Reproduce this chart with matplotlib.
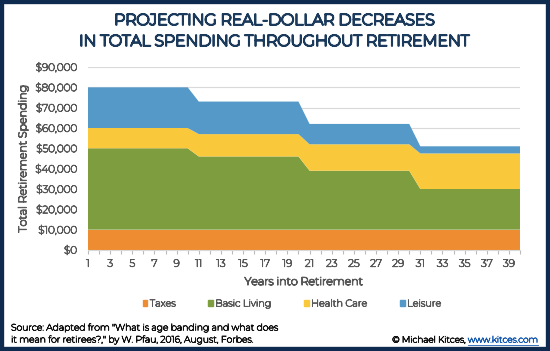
import matplotlib
matplotlib.use("Agg")
import matplotlib.pyplot as plt
import matplotlib.patheffects as pe
from matplotlib.patches import Rectangle

years = list(range(1, 41))
taxes = [10000] * 40
basic_living = [40000] * 10 + [36000] * 10 + [29000] * 10 + [20000] * 10
health_care = [10000] * 10 + [11000] * 10 + [13000] * 10 + [17500] * 10
leisure = [20000] * 10 + [16000] * 10 + [10000] * 10 + [3500] * 10
series_names = ["Taxes", "Basic Living", "Health Care", "Leisure"]
colors = ["#ED8C30", "#7D9D3F", "#F9C93B", "#5499C7"]
yticks = list(range(0, 90001, 10000))

plt.rcParams['font.family'] = ['Montserrat', 'Lato', 'DejaVu Sans']


def bold(t, w=0.7):
    t.set_path_effects([pe.withStroke(linewidth=w, foreground=t.get_color())])
    return t


fig = plt.figure(figsize=(5.5, 3.51), dpi=100)
W, H = 550, 351

fig.patches.append(Rectangle((0, 0), 1, 1, transform=fig.transFigure,
                             facecolor="none", edgecolor="#0E2B4F",
                             linewidth=6, zorder=10))

ax = fig.add_axes([88 / W, 1 - 250 / H, (520 - 88) / W, (250 - 67) / H])
ax.stackplot(years, taxes, basic_living, health_care, leisure,
             colors=colors, linewidth=0)
ax.set_xlim(1, 40)
ax.set_ylim(0, 90000)
ax.set_yticks(yticks)
ax.set_yticklabels([f"${v:,}" for v in yticks], fontsize=7.5, color="#595959")
ax.set_xticks(years)
ax.set_xticklabels([str(y) if y % 2 == 1 else "" for y in years],
                   fontsize=7.5, color="#595959")
ax.tick_params(axis="y", length=0, pad=8)
ax.tick_params(axis="x", length=3, color="#BBBBBB", pad=4, width=0.8)
ax.grid(axis="y", color="#D9D9D9", linewidth=0.8)
ax.set_axisbelow(True)
for s in ["top", "right", "left"]:
    ax.spines[s].set_visible(False)
ax.spines["bottom"].set_color("#D9D9D9")
for t in ax.get_xticklabels() + ax.get_yticklabels():
    bold(t, 0.6)

bold(ax.set_ylabel("Total Retirement Spending", fontsize=8, color="#595959",
                   labelpad=5), 0.8)
bold(ax.set_xlabel("Years into Retirement", fontsize=8, color="#595959",
                   labelpad=6), 0.8)

handles = [Rectangle((0, 0), 1, 1, color=c) for c in colors]
leg = fig.legend(handles, series_names, loc="center", ncol=4,
                 bbox_to_anchor=(292 / W, 1 - 304 / H), frameon=False,
                 fontsize=7, handlelength=0.5, handleheight=0.5,
                 handletextpad=0.25, columnspacing=3.3, labelcolor="#595959")
for t in leg.get_texts():
    bold(t, 0.6)

for y, s in [(21, "PROJECTING REAL-DOLLAR DECREASES"),
             (42, "IN TOTAL SPENDING THROUGHOUT RETIREMENT")]:
    bold(fig.text(0.5, 1 - y / H, s, ha="center", va="center", fontsize=11.3,
                  color="#1B3A5C"), 1.3)

for y, s in [(328, "Source: Adapted from \"What is age banding and what does"),
             (340, "it mean for retirees?,\" by W. Pfau, 2016, August, Forbes.")]:
    bold(fig.text(11 / W, 1 - y / H, s, ha="left", va="center",
                  fontsize=6.65, color="#111111"), 0.5)
link = bold(fig.text(538 / W, 1 - 340 / H, "www.kitces.com", ha="right",
                     va="center", fontsize=6.4, color="#1A5DB0"), 0.5)
fig.canvas.draw()
r = fig.canvas.get_renderer()
bb = link.get_window_extent(r)
bold(fig.text(bb.x0 / W, 1 - 340 / H, "© Michael Kitces, ", ha="right",
              va="center", fontsize=6.4, color="#111111"), 0.5)
fig.lines.append(plt.Line2D([bb.x0 / W, bb.x1 / W],
                            [(bb.y0 - 0.5) / H, (bb.y0 - 0.5) / H],
                            transform=fig.transFigure, color="#1A5DB0",
                            linewidth=0.6))

fig.savefig("out.png", dpi=100)
